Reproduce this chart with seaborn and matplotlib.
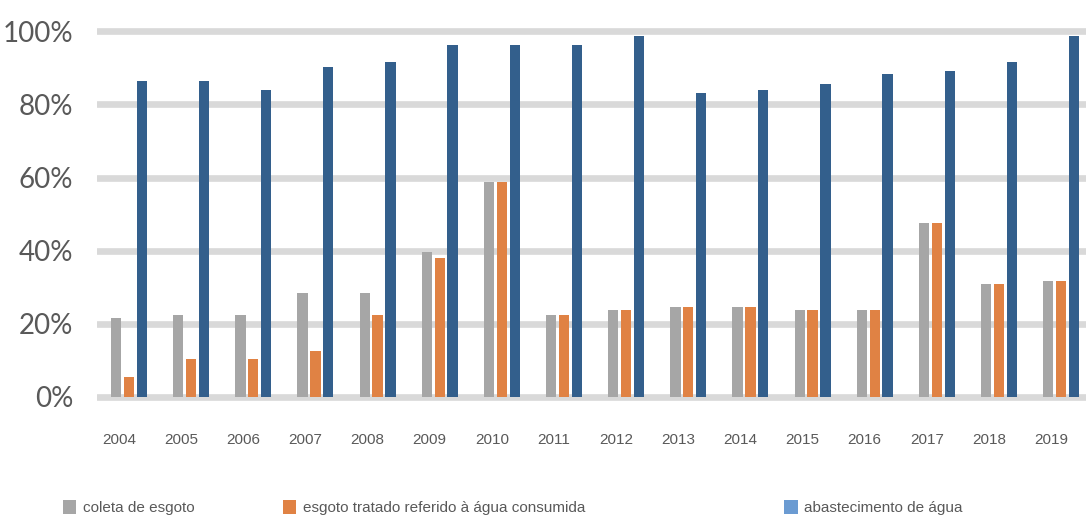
import matplotlib
matplotlib.use("Agg")
import matplotlib.pyplot as plt
import matplotlib.transforms as mtransforms
from matplotlib.patches import Patch
import seaborn as sns
import pandas as pd

years = [str(y) for y in range(2004, 2020)]
coleta = [21.5, 22.4, 22.4, 28.5, 28.5, 39.7, 58.8, 22.4, 23.8, 24.7, 24.7, 23.8, 23.8, 47.7, 30.9, 31.8]
tratado = [5.5, 10.4, 10.4, 12.6, 22.4, 37.9, 58.8, 22.4, 23.8, 24.7, 24.7, 23.8, 23.8, 47.7, 30.9, 31.8]
abastecimento = [86.4, 86.4, 84.0, 90.2, 91.5, 96.3, 96.3, 96.3, 98.6, 83.1, 84.0, 85.5, 88.3, 89.1, 91.5, 98.6]
series_names = ["coleta de esgoto", "esgoto tratado referido à água consumida", "abastecimento de água"]
y_ticks = [0, 20, 40, 60, 80, 100]
y_tick_labels = ["0%", "20%", "40%", "60%", "80%", "100%"]

bar_colors = ["#a6a6a6", "#e08244", "#335f8c"]
legend_colors = ["#a6a6a6", "#e08244", "#6b9bd2"]
text_color = "#595959"
small_family = ['Liberation Sans', 'DejaVu Sans']

df = pd.DataFrame({
    "ano": years * 3,
    "serie": [series_names[0]] * 16 + [series_names[1]] * 16 + [series_names[2]] * 16,
    "valor": coleta + tratado + abastecimento,
})

sns.set_theme(style="white")
plt.rcParams['font.family'] = ['Lato', 'DejaVu Sans']

fig = plt.figure(figsize=(10.86, 5.19), dpi=100)
ax = fig.add_axes([97 / 1086, 0.221, 1 - 97 / 1086, 0.733])

sns.barplot(data=df, x="ano", y="valor", hue="serie", hue_order=series_names,
            order=years, palette=bar_colors, saturation=1, width=0.62, gap=0.2,
            edgecolor="none", linewidth=0, ax=ax, legend=False)

ax.set_xlim(-0.515, 15.4)
ax.set_ylim(-2, 102)
ax.set_yticks(y_ticks)
ax.set_yticklabels(y_tick_labels)
ax.set_xlabel("")
ax.set_ylabel("")
for s in ax.spines.values():
    s.set_visible(False)
ax.set_axisbelow(True)
ax.yaxis.grid(True, color="#d9d9d9", linewidth=4.8)
ax.xaxis.grid(False)
ax.tick_params(axis="y", length=0, pad=17, labelsize=20, labelcolor=text_color)
ax.tick_params(axis="x", length=0, pad=21, labelsize=11, labelcolor=text_color)
for lab in ax.get_xticklabels():
    lab.set_family(small_family)
    lab.set_transform(lab.get_transform() + mtransforms.ScaledTranslation(-10 / 100, 0, fig.dpi_scale_trans))

xs = [62.7 / 1086, 282.7 / 1086, 784 / 1086]
for name, col, x in zip(series_names, legend_colors, xs):
    leg = fig.legend(handles=[Patch(facecolor=col, edgecolor="none", label=name)],
                     loc="center left", bbox_to_anchor=(x, 0.022), frameon=False,
                     borderpad=0, borderaxespad=0, handlelength=0.9, handleheight=1.1,
                     handletextpad=0.4, prop={"family": small_family, "size": 11})
    for t in leg.get_texts():
        t.set_color(text_color)

fig.savefig("out.png", dpi=100)
